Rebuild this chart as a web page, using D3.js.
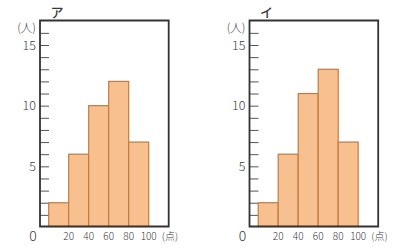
<!DOCTYPE html>
<html>
<head>
<meta charset="utf-8">
<script src="https://cdn.jsdelivr.net/npm/d3@7"></script>
<style>
  body { margin: 0; background: #fff; }
  svg text { font-family: "Noto Sans CJK JP", "Noto Sans", sans-serif; fill: #3a3a3a; }
</style>
</head>
<body>
<div id="chart"></div>
<script>
// bins are 0-20, 20-40, ... 80-100 (点)
const binStarts = [0, 20, 40, 60, 80];
const countsA = [2, 6, 10, 12, 7];
const countsI = [2, 6, 11, 13, 7];
const xTickLabels = [20, 40, 60, 80, 100];
const yTickLabels = [5, 10, 15];
const panelTitles = ["ア", "イ"];

const svg = d3.select("#chart").append("svg")
    .attr("width", 400)
    .attr("height", 252);

function drawPanel(offsetX, title, counts) {
    const g = svg.append("g").attr("transform", `translate(${offsetX},0)`);

    // scales
    const x = d3.scaleLinear().domain([0, 100]).range([48.7, 148.7]);
    const y = d3.scaleLinear().domain([0, 15]).range([227, 45]);

    const frameLeft = 40, frameRight = x(120), frameTop = 20.5, frameBottom = 226.5;

    // minor ticks, pointing inward
    g.append("g")
        .attr("transform", `translate(${frameLeft},0)`)
        .call(d3.axisRight(y).tickValues(d3.range(1, 17)).tickSize(9).tickFormat(""))
        .call(a => a.select(".domain").remove())
        .call(a => a.selectAll("line").attr("stroke", "#555").attr("stroke-width", 1));

    // bars
    g.selectAll(".bar")
        .data(counts)
        .enter()
        .append("rect")
        .attr("class", "bar")
        .attr("x", (d, i) => x(binStarts[i]))
        .attr("y", d => y(d))
        .attr("width", (d, i) => x(binStarts[i] + 20) - x(binStarts[i]))
        .attr("height", d => y(0) - y(d) - 0.5)
        .attr("fill", "#f9c08f")
        .attr("stroke", "#c27a42")
        .attr("stroke-width", 1.2);

    // frame
    g.append("path")
        .attr("d", `M${frameLeft},${frameTop}V${frameBottom}H${frameRight}V${frameTop}Z`)
        .attr("fill", "none")
        .attr("stroke", "#333")
        .attr("stroke-width", 1.8);

    // y labels
    g.selectAll(".ylab")
        .data(yTickLabels)
        .enter()
        .append("text")
        .attr("x", 36)
        .attr("y", d => y(d) + 4.5)
        .attr("text-anchor", "end")
        .style("font-size", "12.5px")
        .style("font-weight", "300")
        .text(d => d);

    // x labels
    g.selectAll(".xlab")
        .data(xTickLabels)
        .enter()
        .append("text")
        .attr("x", d => x(d))
        .attr("y", 240)
        .attr("text-anchor", "middle")
        .style("font-size", "10px")
        .style("font-weight", "300")
        .text(d => d);

    g.append("text")
        .attr("x", 33)
        .attr("y", 240.5)
        .attr("text-anchor", "middle")
        .style("font-size", "14px")
        .style("font-weight", "300")
        .text("0");

    g.append("text")
        .attr("x", 170)
        .attr("y", 239.5)
        .attr("text-anchor", "middle")
        .style("font-size", "10px")
        .style("font-weight", "300")
        .text("(点)");

    g.append("text")
        .attr("x", 26.5)
        .attr("y", 31.5)
        .attr("text-anchor", "middle")
        .style("font-size", "11.5px")
        .style("font-weight", "300")
        .text("(人)");

    g.append("text")
        .attr("x", 57)
        .attr("y", 17)
        .attr("text-anchor", "middle")
        .style("font-size", "13px")
        .style("font-weight", "500")
        .text(title);
}

drawPanel(0, panelTitles[0], countsA);
drawPanel(209.5, panelTitles[1], countsI);
</script>
</body>
</html>
